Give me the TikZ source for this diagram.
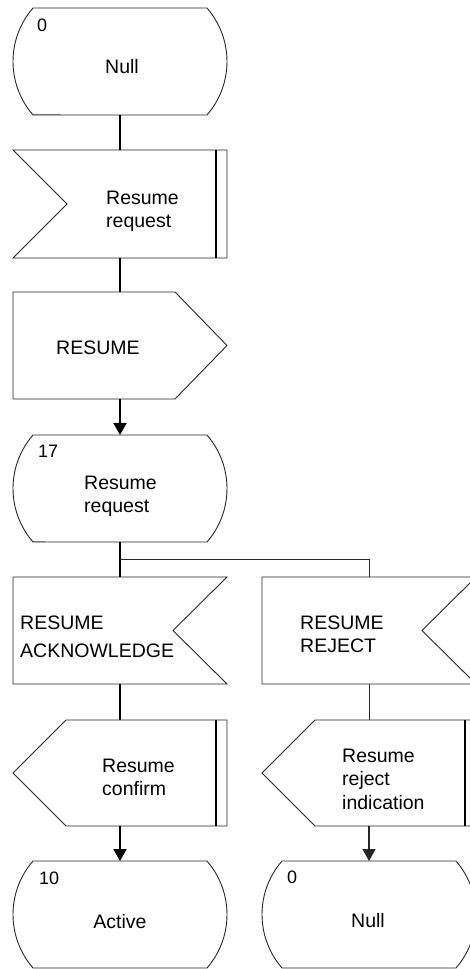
\documentclass[tikz,border=0pt]{standalone}
\usepackage{fontspec}
\setmainfont{Liberation Sans}
\usetikzlibrary{arrows.meta,calc}
\newcommand{\twol}[2]{\vtop{\hbox{#1}\hbox{#2}}}
\newcommand{\threel}[3]{\vtop{\hbox{#1}\hbox{#2}\hbox{#3}}}
% shape outlines drawn from the (invisible) named box nodes
\newcommand{\shapestate}[1]{\draw[outline] let \p1=(#1.north west),\p2=(#1.south east) in
  (\x2-20pt,\y1) -- (\x1+20pt,\y1) arc[start angle=139,end angle=221,radius=81.5pt]
  -- (\x2-20pt,\y2) arc[start angle=-41,end angle=41,radius=81.5pt] -- cycle;}
\newcommand{\shapeinleft}[1]{\draw[outline] let \p1=(#1.north west),\p2=(#1.south east) in
  (\x1,\y1) -- (\x2,\y1) -- (\x2,\y2) -- (\x1,\y2) -- (\x1+54pt,{0.5*(\y1+\y2)}) -- cycle;
  \draw[bar] let \p1=(#1.north east),\p2=(#1.south east) in (\x1-11pt,\y1) -- (\x2-11pt,\y2);}
\newcommand{\shapeinright}[1]{\draw[outline] let \p1=(#1.north west),\p2=(#1.south east) in
  (\x1,\y1) -- (\x2,\y1) -- (\x2-54pt,{0.5*(\y1+\y2)}) -- (\x2,\y2) -- (\x1,\y2) -- cycle;}
\newcommand{\shapeoutright}[1]{\draw[outline] let \p1=(#1.north west),\p2=(#1.south east) in
  (\x1,\y1) -- (\x2-52pt,\y1) -- (\x2,{0.5*(\y1+\y2)}) -- (\x2-52pt,\y2) -- (\x1,\y2) -- cycle;}
\newcommand{\shapeoutleft}[1]{\draw[outline] let \p1=(#1.north west),\p2=(#1.south east) in
  (\x1,{0.5*(\y1+\y2)}) -- (\x1+53pt,\y1) -- (\x2,\y1) -- (\x2,\y2) -- (\x1+53pt,\y2) -- cycle;
  \draw[bar] let \p1=(#1.north east),\p2=(#1.south east) in (\x1-11pt,\y1) -- (\x2-11pt,\y2);}
\begin{document}
\begin{tikzpicture}[x=1pt,y=-1pt,
  box/.style={draw=none,inner sep=0pt,outer sep=0pt,minimum width=214pt},
  outline/.style={draw=black!85,line width=0.9pt,line join=miter},
  bar/.style={draw=black,line width=2pt},
  conn/.style={draw=black,line width=1.8pt},
  thinconn/.style={draw=black!85,line width=1pt},
  arr/.style={-{Triangle[length=12pt,width=13pt]}},
  txt/.style={inner sep=0pt,font=\fontsize{19.5}{23.5}\selectfont,anchor=base west},
  num/.style={inner sep=0pt,font=\fontsize{18}{22}\selectfont,anchor=base west},
  txtc/.style={inner sep=0pt,font=\fontsize{19.5}{23.5}\selectfont,anchor=base},
]
\useasboundingbox (0,0) rectangle (470,969);
\clip (0,0) rectangle (470,969);

% boxes
\node[box,minimum height=107pt] (s0)   at (120,61.5) {};
\node[box,minimum height=108pt] (in1)  at (120,204) {};
\node[box,minimum height=107pt] (out1) at (120,345.5) {};
\node[box,minimum height=107pt] (s17)  at (120,488.5) {};
\node[box,minimum height=107pt] (ack)  at (120,630.5) {};
\node[box,minimum height=106pt] (conf) at (120,773) {};
\node[box,minimum height=107pt] (s10)  at (120,914.5) {};
\node[box,minimum height=107pt] (rej)  at (369,630.5) {};
\node[box,minimum height=106pt] (ind)  at (369,773) {};
\node[box,minimum height=107pt] (s0b)  at (369,914.5) {};
\coordinate (br) at (120,559);

% outlines
\shapestate{s0}
\shapeinleft{in1}
\shapeoutright{out1}
\shapestate{s17}
\shapeinright{ack}
\shapeoutleft{conf}
\shapestate{s10}
\shapeinright{rej}
\shapeoutleft{ind}
\shapestate{s0b}

% connectors
\draw[conn] (s0.south) -- (in1.north);
\draw[conn] (in1.south) -- (out1.north);
\draw[conn,arr] (out1.south) -- (s17.north);
\draw[conn] (s17.south) -- (ack.north);
\draw[thinconn] (br) -| (rej.north);
\draw[conn] (ack.south) -- (conf.north);
\draw[conn,arr] (conf.south) -- (s10.north);
\draw[thinconn] (rej.south) -- (ind.north);
\draw[thinconn,line width=1.3pt,arr] (ind.south) -- (s0b.north);

% texts
\node[num] (t0) at (37,31) {0};
\node[txtc] (t0n) at (122,73) {Null};
\node[txt] (tin1) at (106,204) {\twol{Resume}{request}};
\node[txt] (tout1) at (56,354) {RESUME};
\node[num] (t17) at (38,457) {17};
\node[txt] (t17n) at (84,489) {\twol{Resume}{request}};
\node[txt,font=\fontsize{19.5}{28.5}\selectfont] (tack) at (20,629) {\twol{RESUME}{ACKNOWLEDGE}};
\node[txt] (tconf) at (102,772) {\twol{Resume}{confirm}};
\node[num] (t10) at (39,884) {10};
\node[txtc] (t10n) at (120,928) {Active};
\node[txt] (trej) at (300,629) {\twol{RESUME}{REJECT}};
\node[txt] (tind) at (342,762) {\threel{Resume}{reject}{indication}};
\node[num] (t0b) at (287,883) {0};
\node[txtc] (t0bn) at (368,927) {Null};
\end{tikzpicture}
\end{document}
